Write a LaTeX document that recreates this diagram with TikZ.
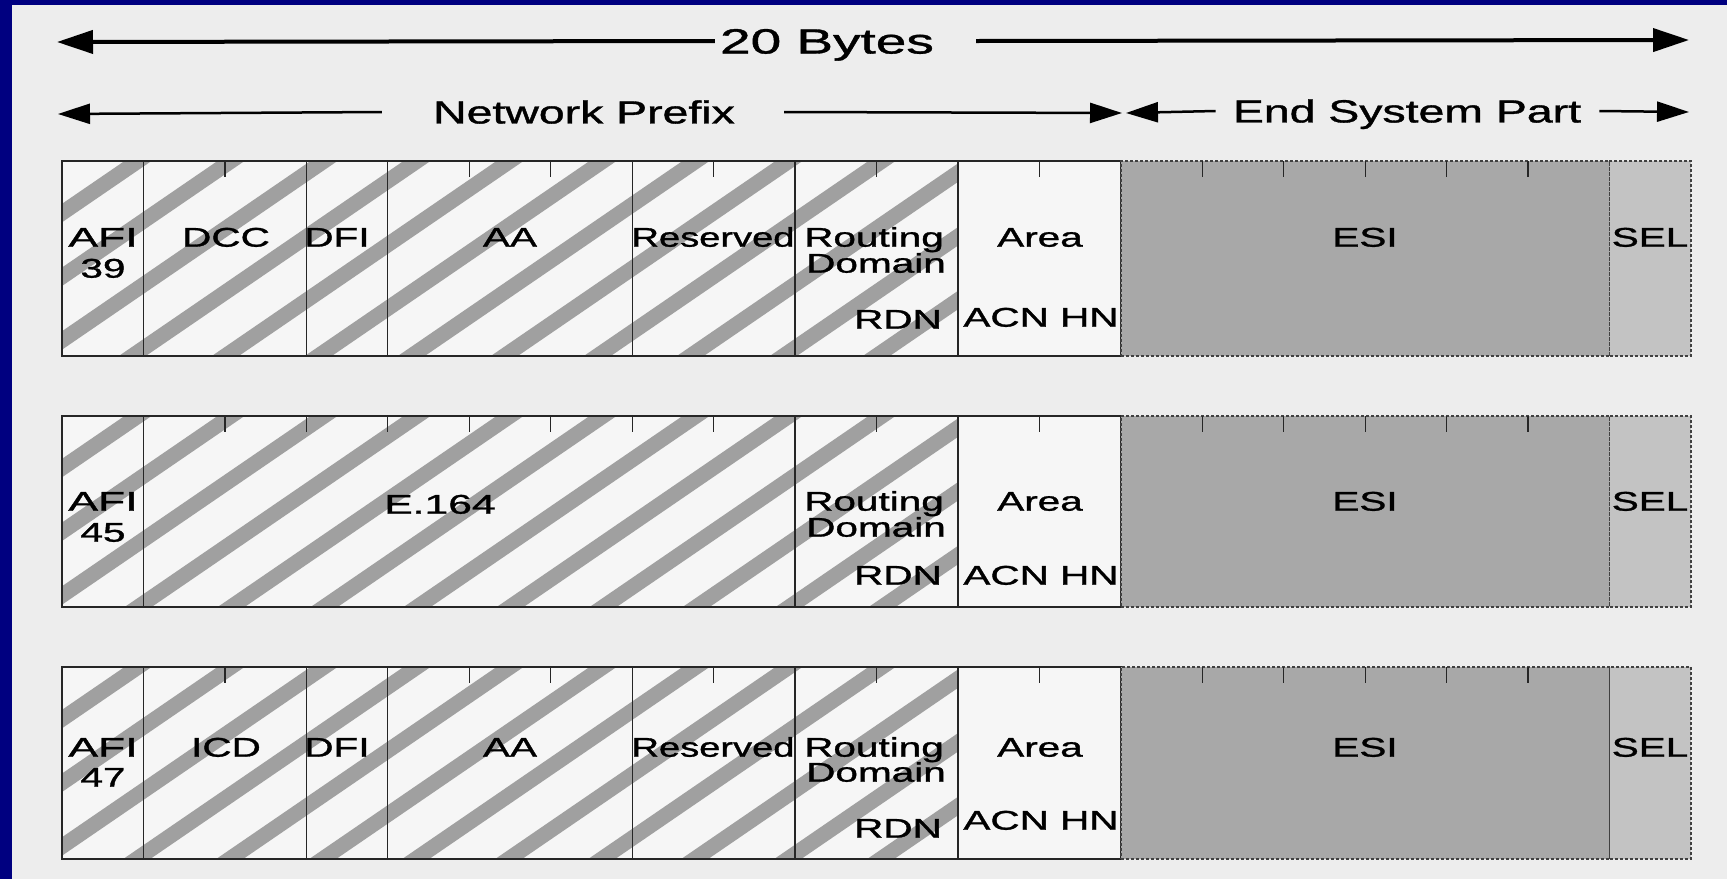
\documentclass[tikz,border=0pt]{standalone}
\usepackage{fontspec}
\setmainfont{Liberation Sans}[FakeBold=1.0]
\usetikzlibrary{arrows.meta}
\definecolor{navy}{RGB}{0,0,128}
\definecolor{page}{RGB}{237,237,237}
\definecolor{cellbg}{RGB}{246,246,246}
\definecolor{stripecol}{RGB}{160,160,160}
\definecolor{esicol}{RGB}{168,168,168}
\definecolor{selcol}{RGB}{195,195,195}
\newcommand\fieldbox[6]{% name, first byte, nbytes, top, bottom, style
  \node[#6, minimum width={81.45pt*#3}, minimum height={(#5-#4)*1pt}] (#1) at ({62+81.45*#2}, #4) {};}
\begin{document}
\begin{tikzpicture}[x=1pt,y=-1pt,
  cellbox/.style={draw=black!85, line width=1.3pt, anchor=north west, inner sep=0pt, outer sep=0pt},
  esibox/.style={cellbox, fill=esicol, draw=black!75, dash pattern=on 3pt off 2pt},
  selbox/.style={cellbox, fill=selcol, draw=black!75, dash pattern=on 3pt off 2pt},
  lbl/.style={font=\fontsize{27}{27}\selectfont, xscale=1.5, inner sep=0pt, text height=19.3pt, text depth=0pt},
  hdr/.style={font=\fontsize{32}{32}\selectfont, xscale=1.45, inner sep=0pt, text height=22.9pt, text depth=0pt},
  bighdr/.style={font=\fontsize{35}{35}\selectfont, xscale=1.57, inner sep=0pt, text height=25pt, text depth=0pt},
  bigarr/.style={line width=4pt, -{Triangle[length=36pt,width=23pt]}},
  smallarr/.style={line width=2.5pt, -{Triangle[length=32pt,width=20pt]}},
  tick/.style={line width=1.3pt, black!85},
  stripe/.style={fill=stripecol}
]
\useasboundingbox (0,0) rectangle (1727,879);
\fill[page] (0,0) rectangle (1727,879);
\fill[navy] (0,0) rectangle (12,879);
\fill[navy] (0,0) rectangle (1727,5);

% ---------- header ----------
\coordinate (bL) at (57,42);
\coordinate (bR) at (1689,40);
\node[bighdr] (bytes) at (827,41) {20 Bytes};
\draw[bigarr] ([xshift=-5pt]bytes.west) -- (bL);
\draw[bigarr] ([xshift=42pt]bytes.east) -- (bR);

\coordinate (npL) at (58,114);
\coordinate (npR) at (1122,113);
\node[hdr] (np) at (584,112) {Network Prefix};
\draw[smallarr] ([xshift=-51pt]np.west) -- (npL);
\draw[smallarr] ([xshift=49pt]np.east) -- (npR);

\coordinate (esL) at (1126,113);
\coordinate (esR) at (1689,112);
\node[hdr] (esp) at (1407,111) {End System Part};
\draw[smallarr] ([xshift=-17pt]esp.west) -- (esL);
\draw[smallarr] ([xshift=18pt]esp.east) -- (esR);

% ---------- backgrounds + stripes ----------
\foreach \t/\b in {161/356, 416/607, 667/859}{
  \fill[cellbg] (62,\t) rectangle (1121,\b);
  \begin{scope}
    \clip (62,\t) rectangle (958,\b);
    \foreach \k in {-1,...,13}{
      \pgfmathsetmacro{\c}{138+93*\k}
      \pgfmathsetmacro{\d}{1.46*(\b-\t)}
      \fill[stripe] (\c-13.5,\t) -- (\c+13.5,\t) -- (\c+13.5-\d,\b) -- (\c-13.5-\d,\b) -- cycle;
    }
  \end{scope}
}

% ---------- row 1 ----------
\fieldbox{r1afi}{0}{1}{161}{356}{cellbox}
\fieldbox{r1dcc}{1}{2}{161}{356}{cellbox}
\fieldbox{r1dfi}{3}{1}{161}{356}{cellbox}
\fieldbox{r1aa}{4}{3}{161}{356}{cellbox}
\fieldbox{r1res}{7}{2}{161}{356}{cellbox}
\fieldbox{r1rd}{9}{2}{161}{356}{cellbox}
\fieldbox{r1area}{11}{2}{161}{356}{cellbox}
\fieldbox{r1esi}{13}{6}{161}{356}{esibox}
\fieldbox{r1sel}{19}{1}{161}{356}{selbox}
\foreach \i in {2,5,6,8,10,12,14,15,16,17,18}
  \draw[tick] ({62+81.45*\i},161) -- ++(0,16);
\node[lbl, xscale=1.1] (r1a) at (103,237) {AFI};
\node[lbl] (r1n) at (103,268) {39};
\node[lbl] (r1b) at (226,237) {DCC};
\node[lbl] (r1c) at (337,237) {DFI};
\node[lbl] (r1d) at (510,237) {AA};
\node[lbl, xscale=0.94] (r1e) at (713,237) {Reserved};
\node[lbl] (r1f) at (874,237) {Routing};
\node[lbl] (r1g) at (876,263) {Domain};
\node[lbl] (r1h) at (898,319) {RDN};
\node[lbl] (r1i) at (1040,237) {Area};
\node[lbl] (r1j) at (1041,317) {ACN HN};
\node[lbl] (r1k) at (1365,237) {ESI};
\node[lbl] (r1l) at (1650,237) {SEL};

% ---------- row 2 ----------
\fieldbox{r2afi}{0}{1}{416}{607}{cellbox}
\fieldbox{r2e}{1}{8}{416}{607}{cellbox}
\fieldbox{r2rd}{9}{2}{416}{607}{cellbox}
\fieldbox{r2area}{11}{2}{416}{607}{cellbox}
\fieldbox{r2esi}{13}{6}{416}{607}{esibox}
\fieldbox{r2sel}{19}{1}{416}{607}{selbox}
\foreach \i in {2,3,4,5,6,7,8,10,12,14,15,16,17,18}
  \draw[tick] ({62+81.45*\i},416) -- ++(0,16);
\node[lbl, xscale=1.1] (r2a) at (103,501) {AFI};
\node[lbl] (r2n) at (103,532) {45};
\node[lbl, xscale=1.05] (r2b) at (440,504) {E.164};
\node[lbl] (r2f) at (874,501) {Routing};
\node[lbl] (r2g) at (876,527) {Domain};
\node[lbl] (r2h) at (898,575) {RDN};
\node[lbl] (r2i) at (1040,501) {Area};
\node[lbl] (r2j) at (1041,575) {ACN HN};
\node[lbl] (r2k) at (1365,501) {ESI};
\node[lbl] (r2l) at (1650,501) {SEL};

% ---------- row 3 ----------
\fieldbox{r3afi}{0}{1}{667}{859}{cellbox}
\fieldbox{r3icd}{1}{2}{667}{859}{cellbox}
\fieldbox{r3dfi}{3}{1}{667}{859}{cellbox}
\fieldbox{r3aa}{4}{3}{667}{859}{cellbox}
\fieldbox{r3res}{7}{2}{667}{859}{cellbox}
\fieldbox{r3rd}{9}{2}{667}{859}{cellbox}
\fieldbox{r3area}{11}{2}{667}{859}{cellbox}
\fieldbox{r3esi}{13}{6}{667}{859}{esibox}
\fieldbox{r3sel}{19}{1}{667}{859}{selbox}
\foreach \i in {2,5,6,8,10,12,14,15,16,17,18}
  \draw[tick] ({62+81.45*\i},667) -- ++(0,16);
\node[lbl, xscale=1.1] (r3a) at (103,747) {AFI};
\node[lbl] (r3n) at (103,777) {47};
\node[lbl] (r3b) at (226,747) {ICD};
\node[lbl] (r3c) at (337,747) {DFI};
\node[lbl] (r3d) at (510,747) {AA};
\node[lbl, xscale=0.94] (r3e) at (713,747) {Reserved};
\node[lbl] (r3f) at (874,747) {Routing};
\node[lbl] (r3g) at (876,772) {Domain};
\node[lbl] (r3h) at (898,828) {RDN};
\node[lbl] (r3i) at (1040,747) {Area};
\node[lbl] (r3j) at (1041,820) {ACN HN};
\node[lbl] (r3k) at (1365,747) {ESI};
\node[lbl] (r3l) at (1650,747) {SEL};
\end{tikzpicture}
\end{document}
